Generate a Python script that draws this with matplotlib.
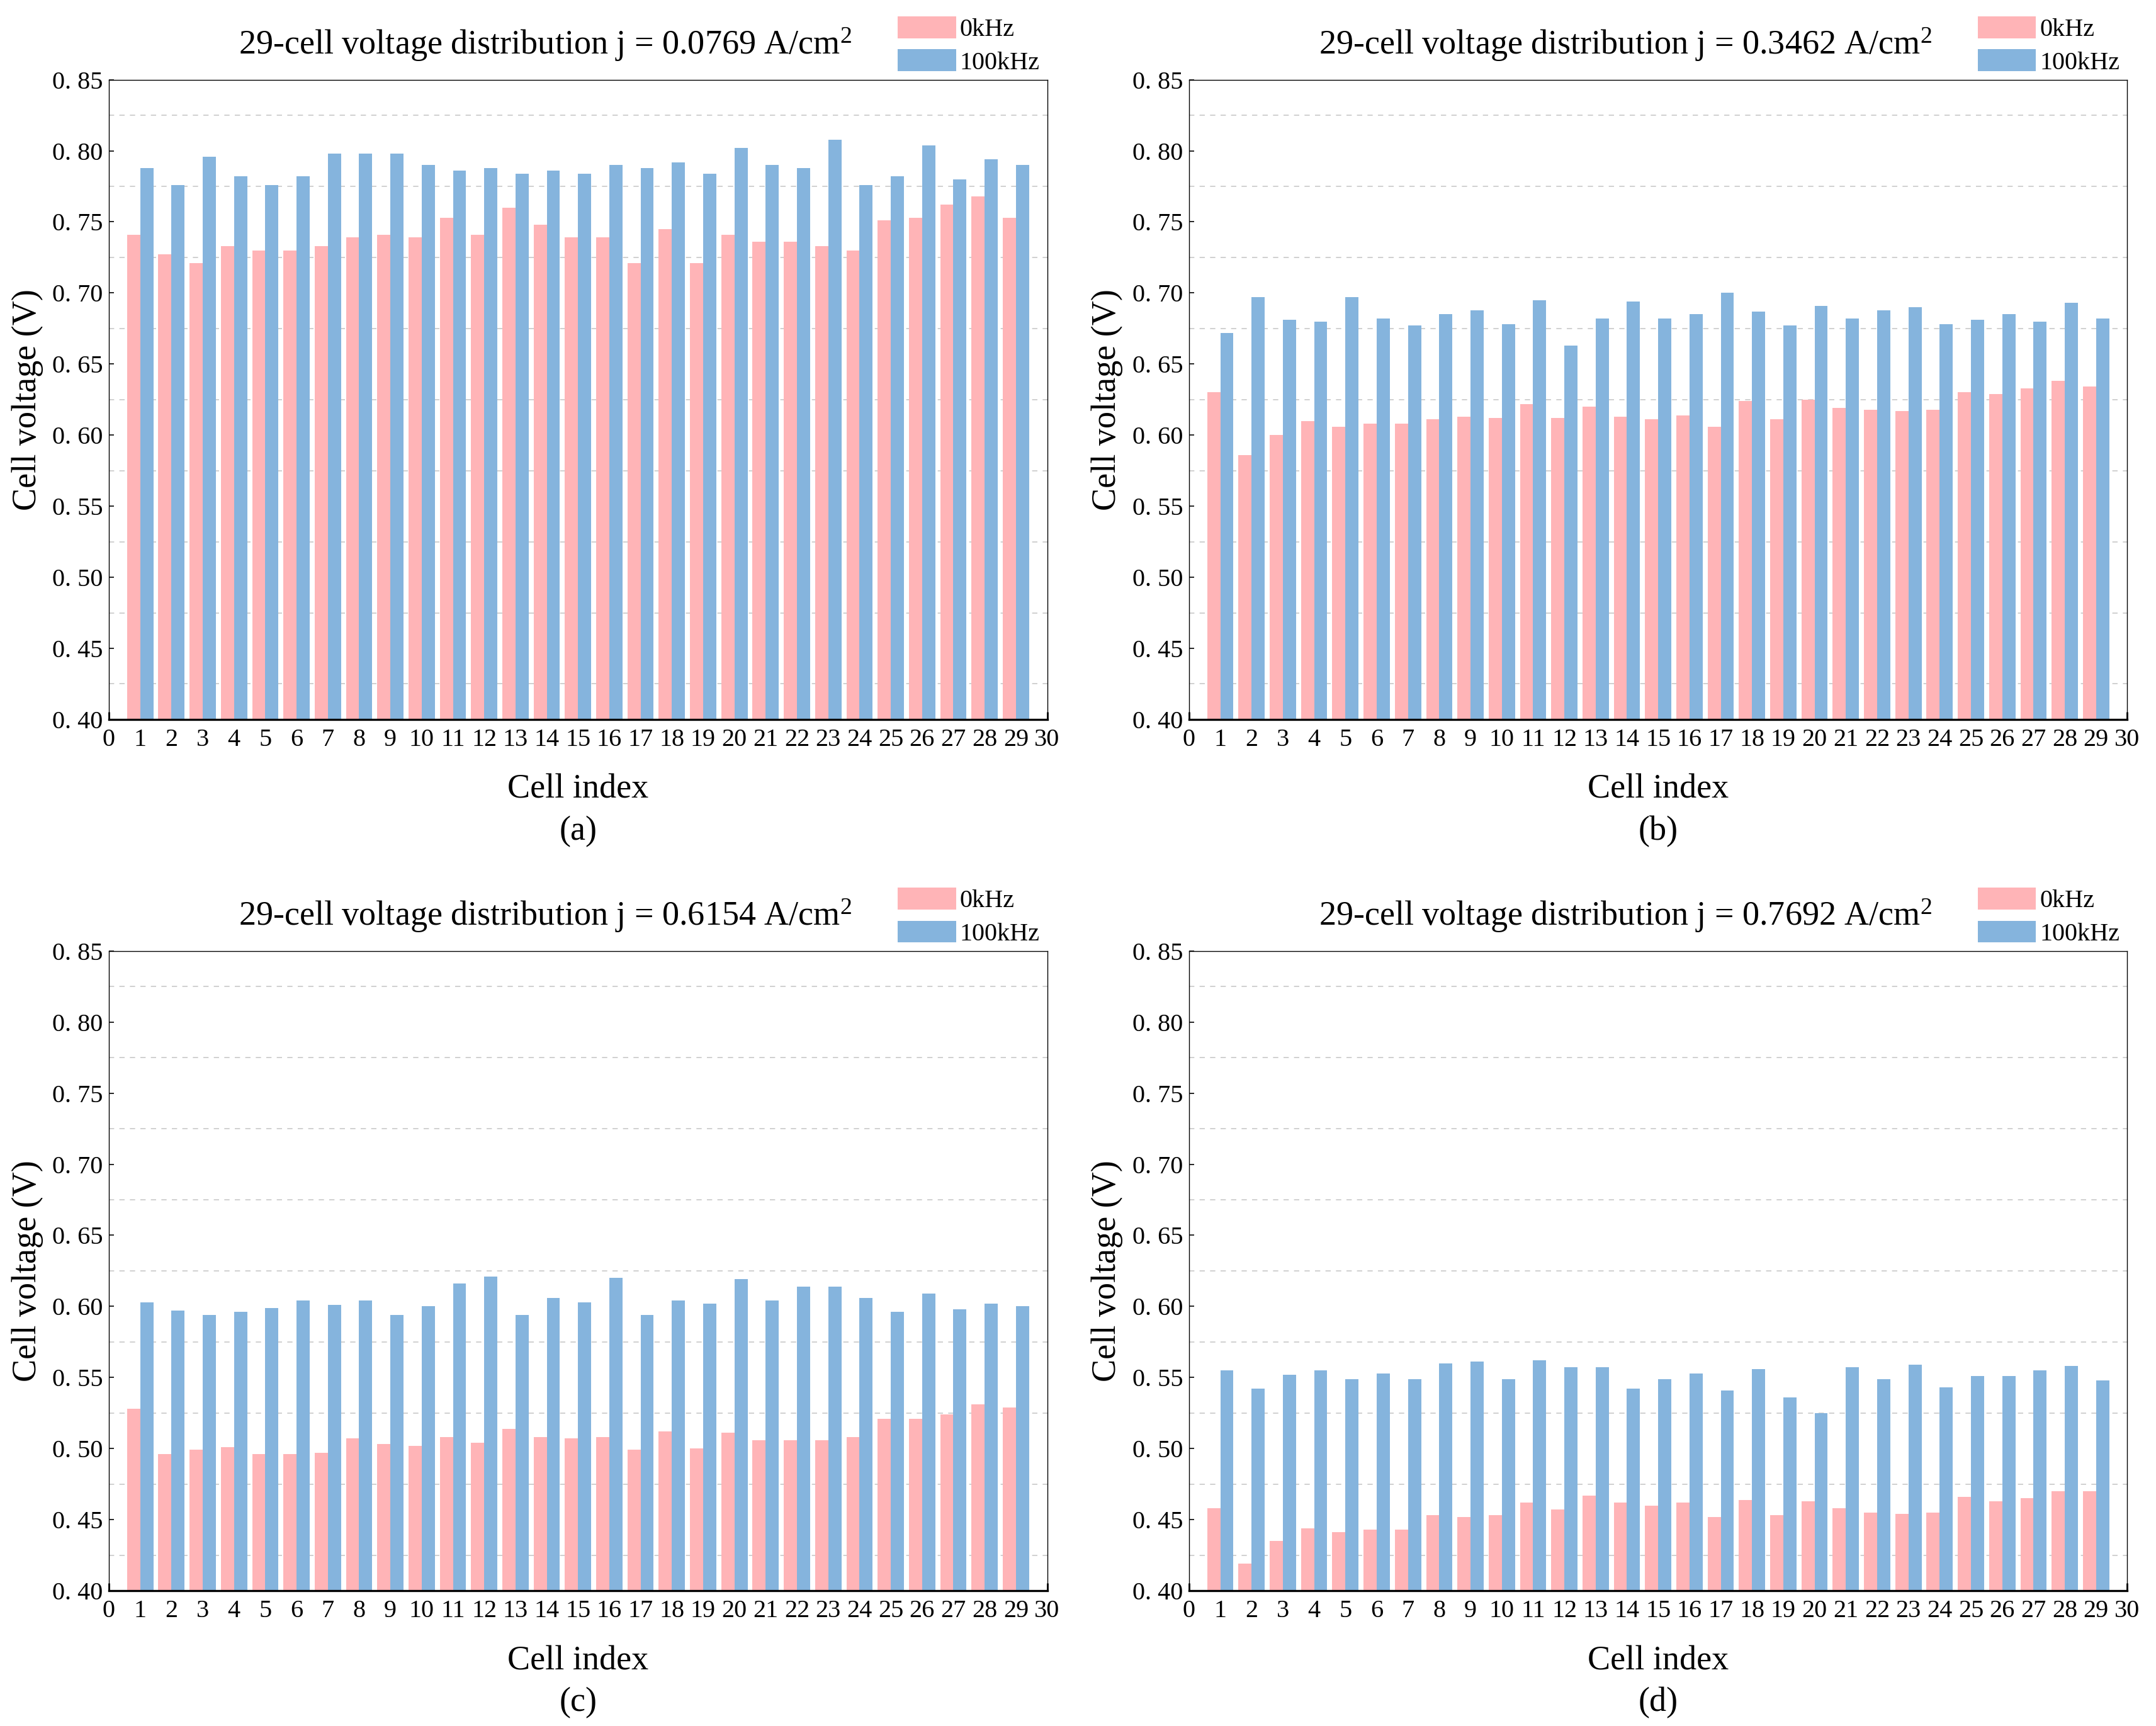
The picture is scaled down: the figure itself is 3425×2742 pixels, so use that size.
import matplotlib
matplotlib.use('Agg')
import matplotlib.pyplot as plt
import numpy as np
from matplotlib.patches import Patch

plt.rcParams['font.family'] = ['Liberation Serif', 'DejaVu Serif']
plt.rcParams['mathtext.fontset'] = 'custom'
plt.rcParams['mathtext.rm'] = 'Liberation Serif'
plt.rcParams['mathtext.it'] = 'Liberation Serif:italic'

# data
cells = list(range(1, 30))
current_density = ['0.0769', '0.3462', '0.6154', '0.7692']
panel_tags = ['(a)', '(b)', '(c)', '(d)']
series_names = ['0kHz', '100kHz']

a_0k = [0.741, 0.727, 0.721, 0.733, 0.730, 0.730, 0.733, 0.739, 0.741, 0.739,
        0.753, 0.741, 0.760, 0.748, 0.739, 0.739, 0.721, 0.745, 0.721, 0.741,
        0.736, 0.736, 0.733, 0.730, 0.751, 0.753, 0.762, 0.768, 0.753]
a_100k = [0.788, 0.776, 0.796, 0.782, 0.776, 0.782, 0.798, 0.798, 0.798, 0.790,
          0.786, 0.788, 0.784, 0.786, 0.784, 0.790, 0.788, 0.792, 0.784, 0.802,
          0.790, 0.788, 0.808, 0.776, 0.782, 0.804, 0.780, 0.794, 0.790]

b_0k = [0.630, 0.586, 0.600, 0.610, 0.606, 0.608, 0.608, 0.611, 0.613, 0.612,
        0.622, 0.612, 0.620, 0.613, 0.611, 0.614, 0.606, 0.624, 0.611, 0.625,
        0.619, 0.618, 0.617, 0.618, 0.630, 0.629, 0.633, 0.638, 0.634]
b_100k = [0.672, 0.697, 0.681, 0.680, 0.697, 0.682, 0.677, 0.685, 0.688, 0.678,
          0.695, 0.663, 0.682, 0.694, 0.682, 0.685, 0.700, 0.687, 0.677, 0.691,
          0.682, 0.688, 0.690, 0.678, 0.681, 0.685, 0.680, 0.693, 0.682]

c_0k = [0.528, 0.496, 0.499, 0.501, 0.496, 0.496, 0.497, 0.507, 0.503, 0.502,
        0.508, 0.504, 0.514, 0.508, 0.507, 0.508, 0.499, 0.512, 0.500, 0.511,
        0.506, 0.506, 0.506, 0.508, 0.521, 0.521, 0.524, 0.531, 0.529]
c_100k = [0.603, 0.597, 0.594, 0.596, 0.599, 0.604, 0.601, 0.604, 0.594, 0.600,
          0.616, 0.621, 0.594, 0.606, 0.603, 0.620, 0.594, 0.604, 0.602, 0.619,
          0.604, 0.614, 0.614, 0.606, 0.596, 0.609, 0.598, 0.602, 0.600]

d_0k = [0.458, 0.419, 0.435, 0.444, 0.441, 0.443, 0.443, 0.453, 0.452, 0.453,
        0.462, 0.457, 0.467, 0.462, 0.460, 0.462, 0.452, 0.464, 0.453, 0.463,
        0.458, 0.455, 0.454, 0.455, 0.466, 0.463, 0.465, 0.470, 0.470]
d_100k = [0.555, 0.542, 0.552, 0.555, 0.549, 0.553, 0.549, 0.560, 0.561, 0.549,
          0.562, 0.557, 0.557, 0.542, 0.549, 0.553, 0.541, 0.556, 0.536, 0.525,
          0.557, 0.549, 0.559, 0.543, 0.551, 0.551, 0.555, 0.558, 0.548]

yticks = [0.40, 0.45, 0.50, 0.55, 0.60, 0.65, 0.70, 0.75, 0.80, 0.85]
ytick_labels = ['0. 40', '0. 45', '0. 50', '0. 55', '0. 60',
                '0. 65', '0. 70', '0. 75', '0. 80', '0. 85']
ygrid = [0.425, 0.475, 0.525, 0.575, 0.625, 0.675, 0.725, 0.775, 0.825]
xticks = list(range(0, 31))

panels = [(a_0k, a_100k), (b_0k, b_100k), (c_0k, c_100k), (d_0k, d_100k)]

pink = '#FFB4B7'
blue = '#85B4DD'

fig = plt.figure(figsize=(34.25, 27.42), dpi=100)

# axes boxes in figure fractions
lefts = [0.0505, 0.5515, 0.0505, 0.5515]
bottoms = [0.5832, 0.5832, 0.0784, 0.0784]
w, h = 0.4352, 0.3706

x = np.array(cells)
bw = 0.42
for i, (v0, v1) in enumerate(panels):
    ax = fig.add_axes([lefts[i], bottoms[i], w, h])
    ax.bar(x - bw / 2, v0, width=bw, color=pink, zorder=2)
    ax.bar(x + bw / 2, v1, width=bw, color=blue, zorder=2)
    ax.set_xlim(0, 30)
    ax.set_ylim(0.40, 0.85)
    ax.set_xticks(xticks)
    ax.set_xticklabels([str(t) for t in xticks])
    ax.set_yticks(yticks)
    ax.set_yticklabels(ytick_labels)
    ax.set_yticks(ygrid, minor=True)
    ax.tick_params(axis='x', which='major', direction='in', length=9, width=2,
                   labelsize=29, pad=10, top=False)
    ax.tick_params(axis='y', which='major', direction='in', length=6, width=1.2,
                   labelsize=29, pad=7, right=False)
    ax.tick_params(axis='y', which='minor', length=0)
    ax.grid(which='minor', axis='y', color='#c8c8c8', linestyle=(0, (5, 5)),
            linewidth=1.2, zorder=0)
    ax.set_axisbelow(True)
    for s in ['top', 'right', 'left']:
        ax.spines[s].set_linewidth(1.0)
    ax.spines['bottom'].set_linewidth(2.4)

    ax.text(0.465, 1.040, '29-cell voltage distribution j = %s A/cm$^2$' % current_density[i],
            transform=ax.transAxes, ha='center', va='baseline', fontsize=39)
    ax.text(-0.087, 0.5, 'Cell voltage (V)', rotation=90, transform=ax.transAxes,
            ha='center', va='center', fontsize=39)
    ax.text(0.5, -0.11, 'Cell index', transform=ax.transAxes,
            ha='center', va='center', fontsize=39)
    ax.text(0.5, -0.175, panel_tags[i], transform=ax.transAxes,
            ha='center', va='center', fontsize=39)

    handles = [Patch(facecolor=pink, edgecolor='none'),
               Patch(facecolor=blue, edgecolor='none')]
    ax.legend(handles, series_names, loc='upper right', bbox_to_anchor=(0.992, 1.099),
              frameon=False, fontsize=29, handlelength=2.3, handleheight=0.95,
              handletextpad=0.15, labelspacing=0.3, borderpad=0, borderaxespad=0)

fig.savefig('out.png', dpi=100)
